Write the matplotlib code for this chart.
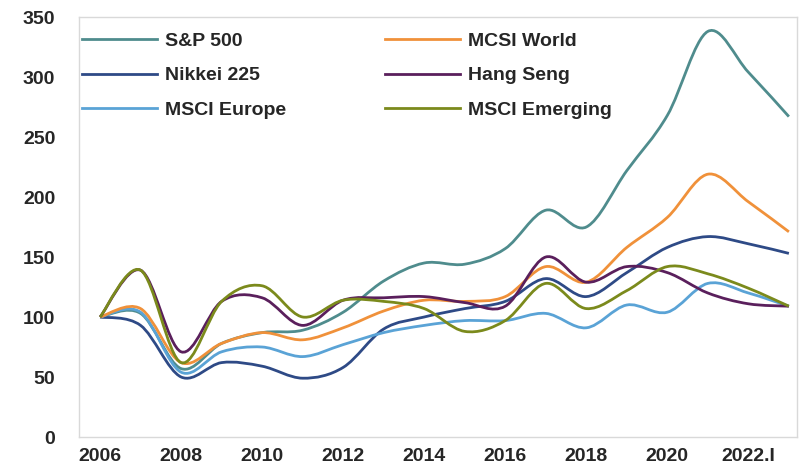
import matplotlib
matplotlib.use("Agg")
import matplotlib.pyplot as plt
from matplotlib.path import Path
from matplotlib.patches import PathPatch
from matplotlib.lines import Line2D
import numpy as np

plt.rcParams['font.family'] = ['Liberation Sans', 'DejaVu Sans']
plt.rcParams['font.weight'] = 'bold'

# one point per year, last one is 2022.I
years = list(range(18))
tick_pos = [0, 2, 4, 6, 8, 10, 12, 14, 16]
tick_labels = ['2006', '2008', '2010', '2012', '2014', '2016', '2018', '2020', '2022.I']

sp500 = [100, 103, 57, 78, 87, 89, 104, 130, 145, 144, 157, 189, 175, 222, 268, 338, 304, 267]
msci_world = [100, 107, 62, 78, 87, 81, 91, 105, 114, 113, 117, 142, 129, 158, 183, 219, 196, 171]
nikkei = [100, 93, 50, 62, 59, 49, 58, 90, 100, 107, 113, 132, 117, 137, 158, 167, 161, 153]
hang_seng = [100, 139, 71, 113, 116, 93, 114, 116, 117, 112, 109, 150, 129, 142, 137, 120, 111, 109]
msci_europe = [100, 104, 54, 71, 75, 67, 77, 87, 93, 97, 97, 103, 91, 110, 104, 128, 120, 109]
msci_emerging = [100, 139, 62, 113, 126, 100, 114, 113, 107, 88, 97, 128, 107, 122, 142, 136, 124, 109]

series = [
    ('S&P 500', sp500, '#4f8c8d'),
    ('Nikkei 225', nikkei, '#2e4a86'),
    ('MSCI Europe', msci_europe, '#5aa3d6'),
    ('MCSI World', msci_world, '#f0913a'),
    ('Hang Seng', hang_seng, '#5a1f5c'),
    ('MSCI Emerging', msci_emerging, '#7b8a1c'),
]


def smooth_path(x, y):
    # excel-like smoothed line: cubic bezier between points
    p = np.column_stack([x, y]).astype(float)
    n = len(p)
    verts = [p[0]]
    codes = [Path.MOVETO]
    for i in range(n - 1):
        p0 = p[i - 1] if i > 0 else p[i]
        p3 = p[i + 2] if i + 2 < n else p[i + 1]
        c1 = p[i] + (p[i + 1] - p0) / 6
        c2 = p[i + 1] - (p3 - p[i]) / 6
        verts += [c1, c2, p[i + 1]]
        codes += [Path.CURVE4] * 3
    return Path(verts, codes)


fig = plt.figure(figsize=(7.99, 4.67), dpi=100)
ax = fig.add_axes([79 / 799, 30 / 467, 718 / 799, 420 / 467])

handles = []
for name, vals, col in series:
    ax.add_patch(PathPatch(smooth_path(years, vals), fill=False, edgecolor=col, lw=2))
    handles.append(Line2D([], [], color=col, lw=2, label=name))

ax.set_xlim(-0.52, 17.2)
ax.set_ylim(0, 350)
ax.set_yticks(range(0, 351, 50))
ax.set_xticks(tick_pos)
ax.set_xticklabels(tick_labels)
ax.tick_params(length=0, labelsize=14, colors='#262626')
ax.tick_params(axis='y', pad=17)
ax.tick_params(axis='x', pad=8)
for s in ax.spines.values():
    s.set_color('#d9d9d9')
    s.set_linewidth(1)

ax.legend(handles=handles, ncol=2, frameon=False, loc='upper left',
          bbox_to_anchor=(0.0, 0.97), fontsize=14, handlelength=3.86,
          handletextpad=0.41, labelspacing=0.86, columnspacing=5.1,
          borderaxespad=0, borderpad=0.15, labelcolor='#262626')

fig.savefig('out.png', dpi=100)
